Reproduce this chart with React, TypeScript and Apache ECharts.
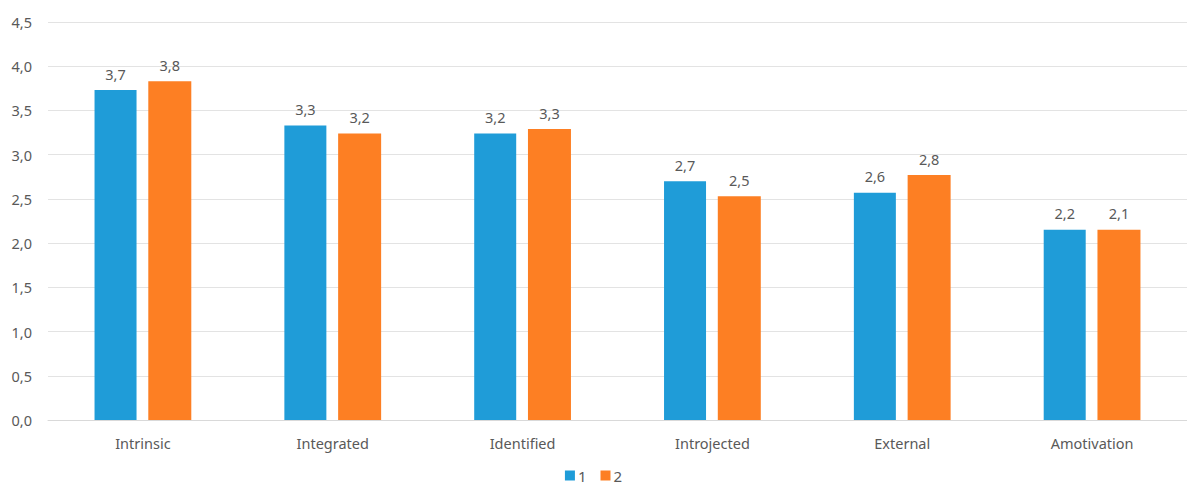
import React, { useEffect, useRef } from "react";
import * as echarts from "echarts";

const categories = ["Intrinsic", "Integrated", "Identified", "Introjected", "External", "Amotivation"];
const values1 = [3.73, 3.33, 3.24, 2.7, 2.57, 2.15];
const values2 = [3.83, 3.24, 3.29, 2.53, 2.77, 2.15];
const labels1 = ["3,7", "3,3", "3,2", "2,7", "2,6", "2,2"];
const labels2 = ["3,8", "3,2", "3,3", "2,5", "2,8", "2,1"];
const yTicks = ["0,0", "0,5", "1,0", "1,5", "2,0", "2,5", "3,0", "3,5", "4,0", "4,5"];

const FONT = "'Noto Sans', sans-serif";
const TXT = "#595959";
const FS = 14.5;

export default function App() {
  const ref = useRef<HTMLDivElement>(null);
  useEffect(() => {
    if (!ref.current) return;
    const chart = echarts.init(ref.current, undefined, { renderer: "svg" });
    const lbl = (arr: string[]) => ({
      show: true,
      position: "top" as const,
      distance: 9,
      color: TXT,
      fontFamily: FONT,
      fontSize: FS,
      formatter: (p: any) => arr[p.dataIndex],
    });
    chart.setOption({
      animation: false,
      textStyle: { fontFamily: FONT },
      grid: { left: 48, right: 0, top: 22, bottom: 64, containLabel: false },
      legend: {
        top: 467,
        left: "center",
        padding: 0,
        itemWidth: 10,
        itemHeight: 10,
        itemGap: 14,
        icon: "rect",
        textStyle: {
          color: TXT,
          fontFamily: FONT,
          fontSize: 15,
          lineHeight: 17,
          padding: [0, 0, 0, -2],
        },
        data: ["1", "2"],
      },
      xAxis: {
        type: "category",
        data: categories,
        axisLine: { lineStyle: { color: "#d9d9d9" } },
        axisTick: { show: false },
        axisLabel: { color: TXT, fontFamily: FONT, fontSize: FS, margin: 15 },
      },
      yAxis: {
        type: "value",
        min: 0,
        max: 4.5,
        interval: 0.5,
        axisLine: { show: false },
        axisTick: { show: false },
        splitLine: { lineStyle: { color: "#e3e3e3" } },
        axisLabel: {
          color: TXT,
          fontFamily: FONT,
          fontSize: FS,
          margin: 16,
          formatter: (v: number) => yTicks[Math.round(v / 0.5)] ?? "",
        },
      },
      series: [
        {
          name: "1",
          type: "bar",
          data: values1,
          barWidth: 42,
          barGap: "28%",
          itemStyle: { color: "#1f9cd8" },
          label: lbl(labels1),
        },
        {
          name: "2",
          type: "bar",
          data: values2,
          barWidth: 43,
          itemStyle: { color: "#fd7f23" },
          label: lbl(labels2),
        },
      ],
    });
    return () => chart.dispose();
  }, []);
  return (
    <div
      ref={ref}
      style={{ position: "absolute", left: 0, top: 0, width: 1187, height: 484 }}
    />
  );
}
